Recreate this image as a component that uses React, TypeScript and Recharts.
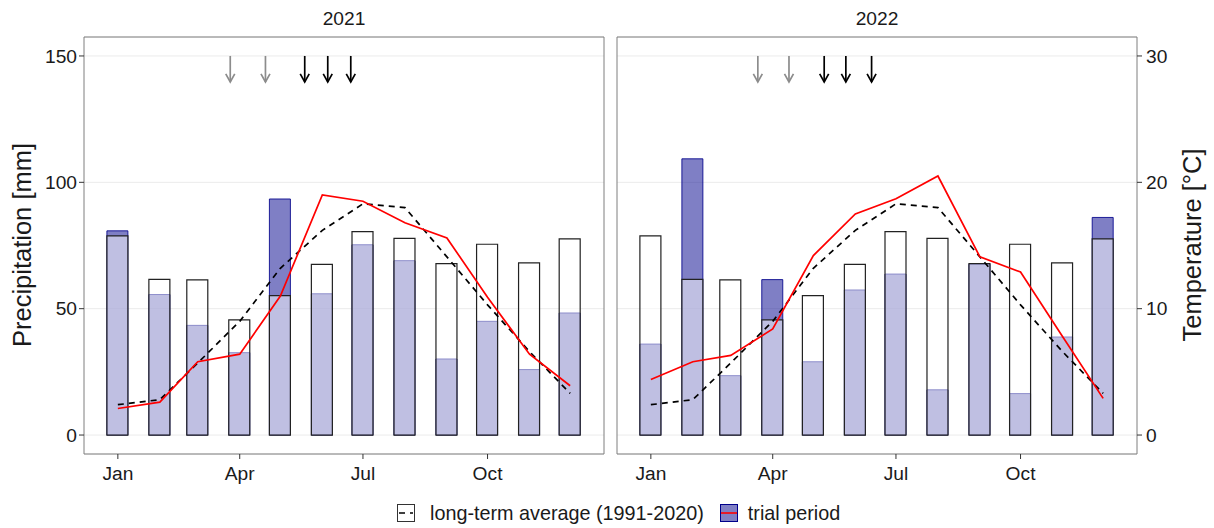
import React from "react";
import { Bar, CartesianGrid, ComposedChart, Line, ReferenceArea, Scatter, XAxis, YAxis } from "recharts";

// day of year of the first of each month (bars and lines sit on these)
const monthStartDay = [0, 31, 59, 90, 120, 151, 181, 212, 243, 273, 304, 334];
const tickDays = [0, 90, 181, 273];
const tickLabels = ["Jan", "Apr", "Jul", "Oct"];
const precipTicks = [0, 50, 100, 150];
const tempTicks = [0, 10, 20, 30];

// precipitation [mm]
const precipLongTerm = [78.8, 61.6, 61.4, 45.6, 55.2, 67.5, 80.5, 77.8, 67.8, 75.5, 68.1, 77.6];
const precip2021 = [80.8, 55.6, 43.4, 32.6, 93.4, 55.9, 75.3, 69.0, 30.1, 45.0, 25.9, 48.3];
const precip2022 = [36.0, 109.3, 23.5, 61.5, 29.0, 57.4, 63.7, 17.9, 67.6, 16.4, 38.8, 86.1];

// temperature [°C]
const tempLongTerm = [2.4, 2.8, 5.7, 9.0, 13.2, 16.2, 18.3, 18.0, 14.1, 10.3, 6.6, 3.3];
const temp2021 = [2.1, 2.6, 5.8, 6.4, 11.0, 19.0, 18.5, 16.8, 15.6, 10.9, 6.4, 3.9];
const temp2022 = [4.4, 5.8, 6.3, 8.4, 14.2, 17.5, 18.7, 20.5, 14.1, 12.9, 7.8, 2.9];

// management events (arrows), day of year
const arrowDays2021 = [83, 109, 138, 155, 172];
const arrowDays2022 = [79, 102, 128, 144, 163];
const arrowColors = ["#8c8c8c", "#8c8c8c", "#000000", "#000000", "#000000"];
const arrowLevel = 150;

const FONT = "'Liberation Sans', Arial, sans-serif";
const X_DOMAIN: [number, number] = [-25, 359];
const P_DOMAIN: [number, number] = [-7.5, 157.5];
const T_DOMAIN: [number, number] = [-1.5, 31.5];

const buildRows = (trialP: number[], trialT: number[]) =>
  monthStartDay.map((day, i) => ({
    day,
    avg: precipLongTerm[i],
    trial: trialP[i],
    tAvg: tempLongTerm[i],
    tTrial: trialT[i],
  }));

const buildArrows = (days: number[]) =>
  days.map((day, i) => ({ day, y: arrowLevel, color: arrowColors[i] }));

const ArrowShape = (props: any) => {
  const { cx, cy, payload } = props;
  if (cx == null || cy == null) return null;
  const len = 26;
  return (
    <g stroke={payload.color} strokeWidth={1.7} fill="none">
      <line x1={cx} y1={cy} x2={cx} y2={cy + len} />
      <polyline points={`${cx - 4.5},${cy + len - 8} ${cx},${cy + len} ${cx + 4.5},${cy + len - 8}`} />
    </g>
  );
};

const tickStyle = { fill: "#1a1a1a", fontSize: 19.2, fontFamily: FONT };

function Panel({ rows, arrows, left }: { rows: any[]; arrows: any[]; left: boolean }) {
  return (
    <ComposedChart
      width={left ? 610 : 604}
      height={490}
      data={rows}
      margin={{ top: 37, right: left ? 6 : 0, bottom: 0, left: left ? 0 : 7 }}
    >
      <CartesianGrid xAxisId="a" yAxisId="p" vertical={false} stroke="#ebebeb" strokeWidth={1} />
      <XAxis
        xAxisId="a"
        type="number"
        dataKey="day"
        domain={X_DOMAIN}
        allowDataOverflow
        ticks={tickDays}
        tickFormatter={(v) => tickLabels[tickDays.indexOf(v)]}
        axisLine={false}
        tickSize={5}
        tickMargin={7}
        tick={tickStyle}
        tickLine={{ stroke: "#333" }}
        height={36}
      />
      {/* separate hidden axes so the two bar series overlap instead of dodging */}
      <XAxis xAxisId="b" type="number" dataKey="day" domain={X_DOMAIN} allowDataOverflow hide />
      <XAxis xAxisId="c" type="number" dataKey="day" domain={X_DOMAIN} allowDataOverflow hide />
      <YAxis
        yAxisId="p"
        domain={P_DOMAIN}
        allowDataOverflow
        ticks={precipTicks}
        hide={!left}
        width={84}
        axisLine={false}
        tickSize={5}
        tickMargin={2}
        tick={tickStyle}
        tickLine={{ stroke: "#333" }}
      />
      <YAxis
        yAxisId="t"
        orientation="right"
        domain={T_DOMAIN}
        allowDataOverflow
        ticks={tempTicks}
        hide={left}
        width={77}
        axisLine={false}
        tickSize={5}
        tickMargin={4}
        tick={tickStyle}
        tickLine={{ stroke: "#333" }}
      />
      <Bar
        xAxisId="c"
        yAxisId="p"
        dataKey="trial"
        barSize={21}
        fill="#00008B"
        fillOpacity={0.5}
        stroke="#00008B"
        strokeOpacity={0.85}
        strokeWidth={1}
        isAnimationActive={false}
      />
      <Bar
        xAxisId="b"
        yAxisId="p"
        dataKey="avg"
        barSize={21}
        fill="#ffffff"
        fillOpacity={0.5}
        stroke="#222"
        strokeWidth={1.2}
        isAnimationActive={false}
      />
      <Line
        xAxisId="a"
        yAxisId="t"
        dataKey="tAvg"
        stroke="#000"
        strokeWidth={1.7}
        strokeDasharray="6 5"
        dot={false}
        isAnimationActive={false}
      />
      <Line
        xAxisId="a"
        yAxisId="t"
        dataKey="tTrial"
        stroke="#ff0000"
        strokeWidth={1.7}
        dot={false}
        isAnimationActive={false}
      />
      <Scatter
        xAxisId="a"
        yAxisId="p"
        data={arrows}
        dataKey="y"
        shape={ArrowShape}
        isAnimationActive={false}
      />
      <ReferenceArea
        xAxisId="a"
        yAxisId="p"
        x1={X_DOMAIN[0]}
        x2={X_DOMAIN[1]}
        y1={P_DOMAIN[0]}
        y2={P_DOMAIN[1]}
        fill="none"
        stroke="#7f7f7f"
        strokeWidth={1}
        ifOverflow="visible"
      />
    </ComposedChart>
  );
}

const abs = (extra: React.CSSProperties): React.CSSProperties => ({ position: "absolute", ...extra });

const axisTitle = (cx: number): React.CSSProperties =>
  abs({
    left: cx - 150,
    top: 245 - 15,
    width: 300,
    height: 30,
    lineHeight: "30px",
    textAlign: "center",
    fontSize: 25.5,
    transform: "rotate(-90deg)",
  });

export default function App() {
  const rows2021 = buildRows(precip2021, temp2021);
  const rows2022 = buildRows(precip2022, temp2022);

  return (
    <div style={abs({ left: 0, top: 0, width: 1214, height: 528, background: "#fff", fontFamily: FONT, color: "#1a1a1a" })}>
      <div style={abs({ left: 0, top: 0 })}>
        <Panel rows={rows2021} arrows={buildArrows(arrowDays2021)} left />
      </div>
      <div style={abs({ left: 610, top: 0 })}>
        <Panel rows={rows2022} arrows={buildArrows(arrowDays2022)} left={false} />
      </div>

      <div style={abs({ left: 244, top: 7, width: 200, textAlign: "center", fontSize: 19.2, lineHeight: "24px" })}>2021</div>
      <div style={abs({ left: 777, top: 7, width: 200, textAlign: "center", fontSize: 19.2, lineHeight: "24px" })}>2022</div>

      <div style={axisTitle(22)}>Precipitation [mm]</div>
      <div style={axisTitle(1192)}>Temperature [°C]</div>

      <div style={abs({ left: 397, top: 503, height: 20, display: "flex", alignItems: "center", fontSize: 19.8, whiteSpace: "nowrap" })}>
        <svg width={18} height={18} style={{ display: "block" }}>
          <rect x={0.5} y={0.5} width={17} height={17} fill="#fff" stroke="#333" strokeWidth={1} />
          <line x1={2} y1={9} x2={16} y2={9} stroke="#000" strokeWidth={1.6} strokeDasharray="6 5" />
        </svg>
        <span style={{ marginLeft: 15 }}>long-term average (1991-2020)</span>
        <svg width={18} height={18} style={{ display: "block", marginLeft: 16 }}>
          <rect x={0.5} y={0.5} width={17} height={17} fill="#8080c5" stroke="#00008B" strokeWidth={1} />
          <line x1={1} y1={9} x2={17} y2={9} stroke="#ff0000" strokeWidth={1.6} />
        </svg>
        <span style={{ marginLeft: 10 }}>trial period</span>
      </div>
    </div>
  );
}
